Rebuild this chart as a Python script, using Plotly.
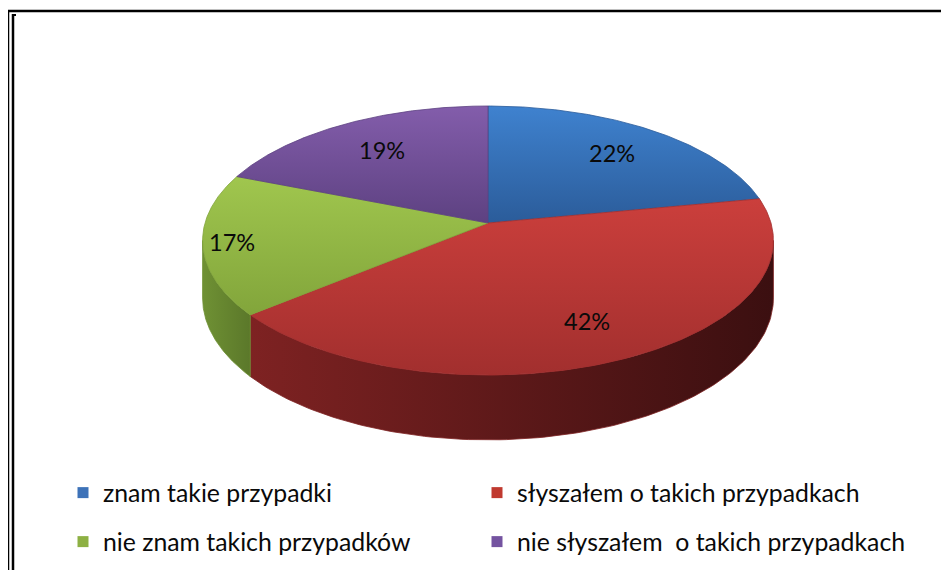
import numpy as np
import plotly.graph_objects as go

# ---- data ----
categories = [
    "znam takie przypadki",
    "słyszałem o takich przypadkach",
    "nie znam takich przypadków",
    "nie słyszałem\u00a0 o takich przypadkach",
]
values = [22, 42, 17, 19]
pct_labels = ["22%", "42%", "17%", "19%"]

# ---- styles ----
top_colors = [("#3f82cf", "#2b5c9a"), ("#cb3f3c", "#a22f2e"),
              ("#a0c64e", "#82a53b"), ("#835dab", "#5d4181")]
side_colors = [("#2b5c9a", "#1f4270"), ("#7e2222", "#3b0f10"),
               ("#6f9134", "#5b782a"), ("#5d4181", "#3f2c58")]
legend_colors = ["#3d72b8", "#c0392f", "#8db043", "#7453a0"]
label_r = [0.74, 0.75, 0.90, 0.72]
legend_ids = ["legend", "legend2", "legend3", "legend4"]
legend_px = [(63, 493), (477, 493), (63, 542), (477, 542)]  # page px

# page body has an 8px margin: axes are set up in page-pixel coordinates
PAGE_W, PAGE_H, BODY = 949, 570, 8
FIG_W, FIG_H = PAGE_W - BODY, PAGE_H - BODY

# projection of the tilted pie (page pixels)
CX, CY, RX, RY, K, H = 488.0, 223.0, 283.0, 132.2, 0.13, 56.5


def proj(theta_deg, r=1.0, down=0.0):
    t = np.radians(theta_deg)
    X = r * np.sin(t)
    Z = r * np.cos(t)
    d = 1 + K * Z
    return CX + RX * X / d, CY - RY * Z / d + H * down / d


total = float(sum(values))
bounds = np.concatenate([[0], np.cumsum(values)]) / total * 360.0
sil_a = np.degrees(np.arccos(-K))
sil_b = 360 - sil_a

fig = go.Figure()

# side walls
for i in range(len(values)):
    a, b = max(bounds[i], sil_a), min(bounds[i + 1], sil_b)
    if b <= a:
        continue
    th = np.linspace(a, b, 120)
    xt, yt = proj(th)
    xb, yb = proj(th[::-1], down=1.0)
    xs = np.concatenate([xt, xb, xt[:1]])
    ys = np.concatenate([yt, yb, yt[:1]])
    c0, c1 = side_colors[i]
    fig.add_trace(go.Scatter(
        x=xs, y=ys, mode="lines", fill="toself",
        line=dict(width=0.8, color=c0),
        fillgradient=dict(type="horizontal", colorscale=[[0, c0], [1, c1]],
                          start=float(xs.min()), stop=float(xs.max())),
        hoverinfo="skip", showlegend=False))

# top faces
for i in range(len(values)):
    th = np.linspace(bounds[i], bounds[i + 1], 150)
    xr, yr = proj(th)
    xs = np.concatenate([[CX], xr, [CX]])
    ys = np.concatenate([[CY], yr, [CY]])
    c0, c1 = top_colors[i]
    fig.add_trace(go.Scatter(
        x=xs, y=ys, mode="lines", fill="toself",
        line=dict(width=0.8, color=c1),
        fillgradient=dict(type="vertical", colorscale=[[0, c0], [1, c1]],
                          start=float(ys.min()), stop=float(ys.max())),
        hoverinfo="skip", showlegend=False))

# percentage labels
for i in range(len(values)):
    mid = (bounds[i] + bounds[i + 1]) / 2
    lx, ly = proj(mid, r=label_r[i])
    fig.add_annotation(x=float(lx), y=float(ly), text=pct_labels[i],
                       showarrow=False, xref="x", yref="y",
                       font=dict(family="Lato", size=23.5, color="#0a0a0a"))

# legend entries
for i, cat in enumerate(categories):
    fig.add_trace(go.Scatter(
        x=[None], y=[None], mode="markers", name=cat,
        marker=dict(symbol="square", size=11, color=legend_colors[i]),
        legend=legend_ids[i]))

leg_common = dict(orientation="h", xanchor="left", yanchor="middle",
                  bgcolor="rgba(0,0,0,0)",
                  font=dict(family="Lato", size=24.8, color="#0a0a0a"),
                  itemclick=False, itemdoubleclick=False)
legends = {lid: dict(x=(px - BODY) / FIG_W, y=(PAGE_H - py) / FIG_H, **leg_common)
           for lid, (px, py) in zip(legend_ids, legend_px)}

# frame lines
frame = [
    dict(x0=7, y0=11, x1=949, y1=11, w=2.5),
    dict(x0=8, y0=10, x1=8, y1=570, w=2.5),
    dict(x0=13, y0=14, x1=13, y1=570, w=2.5),
    dict(x0=12, y0=15, x1=16, y1=15, w=2),
]
shapes = [dict(type="line", xref="x", yref="y", x0=f["x0"], y0=f["y0"],
               x1=f["x1"], y1=f["y1"], line=dict(color="black", width=f["w"]))
          for f in frame]

fig.update_layout(
    width=FIG_W, height=FIG_H,
    margin=dict(l=0, r=0, t=0, b=0),
    paper_bgcolor="white", plot_bgcolor="white",
    xaxis=dict(range=[BODY, PAGE_W], visible=False, fixedrange=True),
    yaxis=dict(range=[PAGE_H, BODY], visible=False, fixedrange=True),
    shapes=shapes,
    hovermode=False,
    **legends,
)

fig.write_html("out.html")
